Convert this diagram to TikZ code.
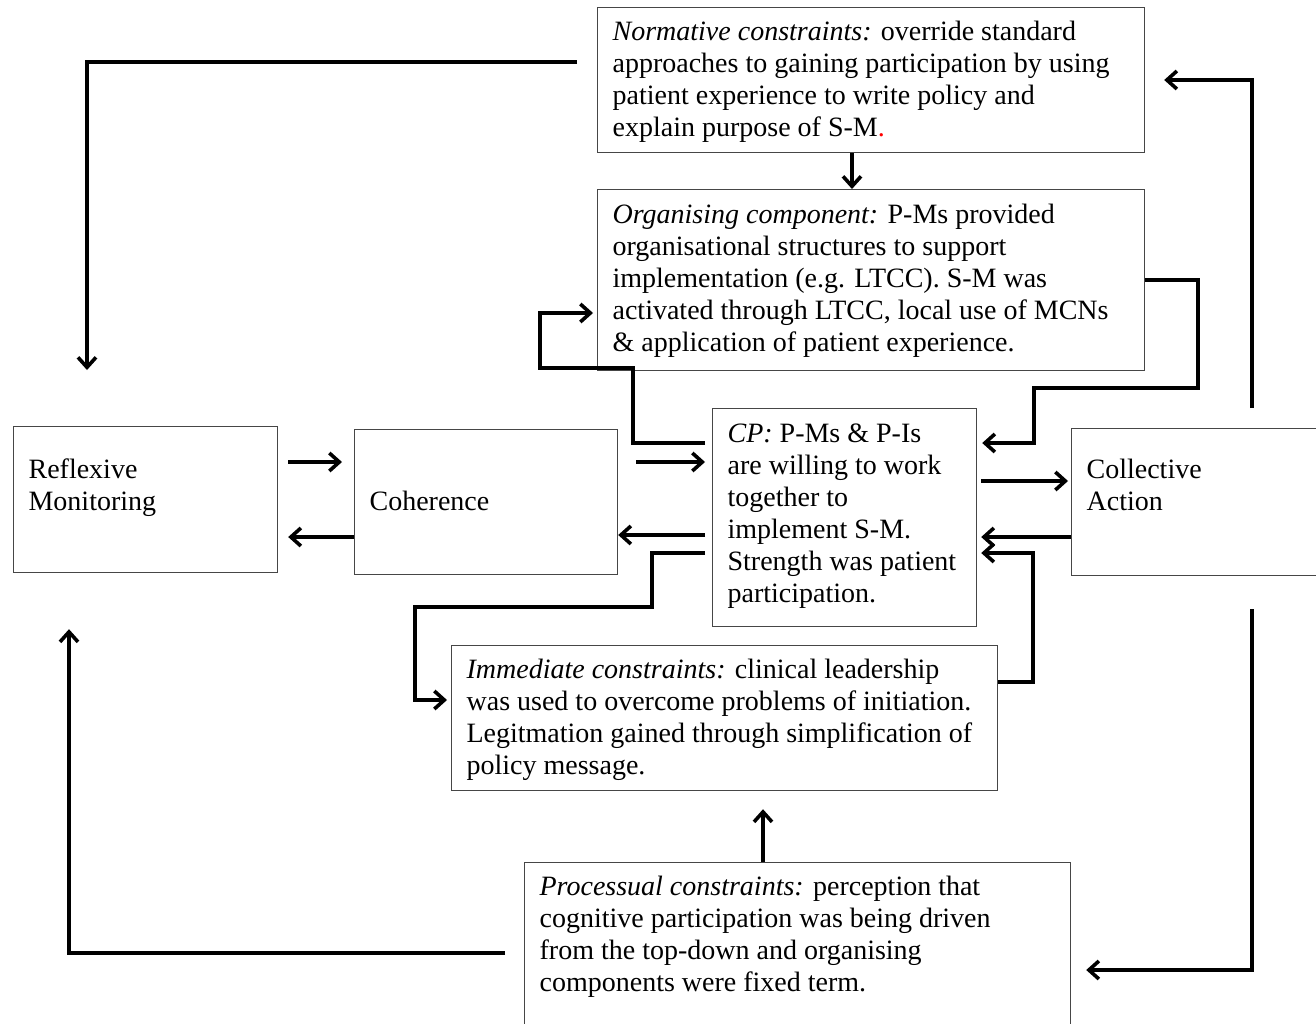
\documentclass[tikz,border=0pt]{standalone}
\usepackage{fontspec}
\setmainfont{Liberation Serif}
\usetikzlibrary{arrows.meta}
\definecolor{boxgray}{RGB}{70,70,70}

% one text line that never breaks
\newcommand\row[1]{\mbox{#1}\par}
% box body: width, height, first baseline, rows
\newcommand\boxbody[4]{\parbox[c][#2][t]{#1}{\fontsize{14pt}{16pt}\selectfont\leavevmode\rule{0pt}{#3}#4}}

\tikzset{
  box/.style={draw=boxgray, line width=0.6pt, fill=white, inner xsep=7.5pt, inner ysep=0pt, anchor=north west},
  conn/.style={line width=1.8pt, draw=black, line join=miter, -{Straight Barb[length=5pt, width=9pt]}}
}

\begin{document}
\begin{tikzpicture}[x=0.5pt, y=-0.5pt]
\clip (0,0) rectangle (1316,1023);
\fill[white] (0,0) rectangle (1316,1023);

% boxes
\node[box] (norm) at (597,7) {\boxbody{258.5pt}{72.5pt}{16.5pt}{%
  \row{\textit{Normative constraints:} override standard}%
  \row{approaches to gaining participation by using}%
  \row{patient experience to write policy and}%
  \row{explain purpose of S-M\textcolor{red}{.}}}};

\node[box] (org) at (597,189) {\boxbody{258.5pt}{90.5pt}{17pt}{%
  \row{\textit{Organising component:} P-Ms provided}%
  \row{organisational structures to support}%
  \row{implementation (e.g. LTCC). S-M was}%
  \row{activated through LTCC, local use of MCNs}%
  \row{\& application of patient experience.}}};

\node[box] (refl) at (13,426) {\boxbody{117pt}{73pt}{26pt}{%
  \row{Reflexive}%
  \row{Monitoring}}};

\node[box] (coh) at (354,429) {\boxbody{116.5pt}{72.5pt}{40.5pt}{%
  \row{Coherence}}};

\node[box] (cp) at (712,408) {\boxbody{117pt}{109pt}{17pt}{%
  \row{\textit{CP:} P-Ms \& P-Is}%
  \row{are willing to work}%
  \row{together to}%
  \row{implement S-M.}%
  \row{Strength was patient}%
  \row{participation.}}};

\node[box] (coll) at (1071,428) {\boxbody{125pt}{73.5pt}{25pt}{%
  \row{Collective}%
  \row{Action}}};

\node[box] (imm) at (451,645) {\boxbody{258pt}{72.5pt}{16.5pt}{%
  \row{\textit{Immediate constraints:} clinical leadership}%
  \row{was used to overcome problems of initiation.}%
  \row{Legitmation gained through simplification of}%
  \row{policy message.}}};

\node[box] (proc) at (524,862) {\boxbody{258pt}{100pt}{16.5pt}{%
  \row{\textit{Processual constraints:} perception that}%
  \row{cognitive participation was being driven}%
  \row{from the top-down and organising}%
  \row{components were fixed term.}}};

% outer feedback loop
\draw[conn, shorten <=10pt, shorten >=28pt] (norm.west |- 0,62) -| (refl.north -| 87,0);
\draw[conn, shorten <=10pt, shorten >=9.5pt] (coll.north -| 1252,0) |- (norm.east |- 0,80);
\draw[conn, shorten <=16.5pt, shorten >=7.5pt] (coll.south -| 1252,0) |- (proc.east |- 0,970);
\draw[conn, shorten <=9.5pt, shorten >=28pt] (proc.west |- 0,953) -| (refl.south -| 69,0);

% vertical links between constraint boxes
\draw[conn] (norm.south -| 852,0) -- (org.north -| 852,0);
\draw[conn, shorten >=9pt] (proc.north -| 763,0) -- (imm.south -| 763,0);

% middle row
\draw[conn, shorten <=5pt, shorten >=6pt] (refl.east |- 0,462) -- (coh.west |- 0,462);
\draw[conn, shorten >=5pt] (coh.west |- 0,537) -- (refl.east |- 0,537);
\draw[conn, shorten <=9pt, shorten >=3.5pt] (coh.east |- 0,462) -- (cp.west |- 0,462);
\draw[conn, shorten <=3.5pt] (cp.west |- 0,535) -- (coh.east |- 0,535);
\draw[conn, shorten <=2pt, shorten >=1.5pt] (cp.east |- 0,481) -- (coll.west |- 0,481);
\draw[conn, shorten >=2pt] (coll.west |- 0,537) -- (cp.east |- 0,537);

% loops through the organising and immediate boxes
\draw[conn, shorten >=2.5pt] (org.east |- 0,280) -- (1198,280) -- (1198,388) -- (1034,388) -- (1034,443) -- (cp.east |- 0,443);
\draw[conn, shorten <=3.5pt, shorten >=2pt] (cp.west |- 0,443) -- (633,443) -- (633,368) -- (540,368) -- (540,313) -- (org.west |- 0,313);
\draw[conn, shorten >=2pt] (imm.east |- 0,682) -- (1033,682) -- (1033,553) -- (cp.east |- 0,553);
\draw[conn, shorten <=3.5pt, shorten >=2pt] (cp.west |- 0,553) -- (652,553) -- (652,607) -- (415,607) -- (415,700) -- (imm.west |- 0,700);
\end{tikzpicture}
\end{document}
